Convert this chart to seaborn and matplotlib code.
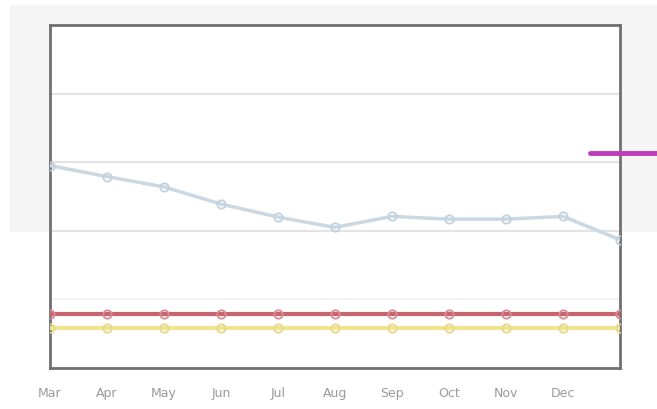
import numpy as np
import pandas as pd
import matplotlib
matplotlib.use("Agg")
import matplotlib.pyplot as plt
from matplotlib.lines import Line2D
from matplotlib.patches import Rectangle
import seaborn as sns

months = ["Mar", "Apr", "May", "Jun", "Jul", "Aug", "Sep", "Oct", "Nov", "Dec", ""]
blue_vals = [2.95, 2.79, 2.64, 2.39, 2.20, 2.05, 2.21, 2.17, 2.17, 2.21, 1.87]
red_vals = [0.78] * 11
yellow_vals = [0.59] * 11
series_names = ["Blue", "Red", "Yellow"]
series_colors = {"Blue": "#cad8e3", "Red": "#c8646e", "Yellow": "#f2e48e"}
marker_edges = {"Blue": "#c2d1dc", "Red": "#d88c92", "Yellow": "#e6d88c"}

rows = []
for name, vals in zip(series_names, [blue_vals, red_vals, yellow_vals]):
    for i, v in enumerate(vals):
        rows.append({"idx": i, "value": v, "series": name})
df = pd.DataFrame(rows)

sns.set_theme(style="white")
plt.rcParams["font.family"] = ["DejaVu Sans"]

fig = plt.figure(figsize=(6.57, 4.09), dpi=100)
fig.patch.set_facecolor("white")
# light grey backdrop band behind upper part
fig.add_artist(Rectangle((10 / 657, (409 - 232) / 409), 1, (232 - 5) / 409,
                         transform=fig.transFigure, facecolor="#f5f5f5",
                         edgecolor="none", zorder=0))

ax = fig.add_axes([50 / 657, (409 - 368) / 409, 570 / 657, 343 / 409])
ax.set_facecolor("white")

for name in ["Yellow", "Red", "Blue"]:
    sub = df[df["series"] == name]
    lw = 2.5 if name == "Blue" else 3
    sns.lineplot(data=sub, x="idx", y="value", ax=ax, color=series_colors[name],
                 linewidth=lw, marker="o", markersize=6,
                 markerfacecolor="none", markeredgecolor=marker_edges[name],
                 markeredgewidth=1.3, legend=False, zorder=3)

ax.set_xlim(0, 10)
ax.set_ylim(0, 5)
ax.set_yticks([2, 3, 4])
ax.set_yticklabels([])
ax.yaxis.grid(True, color="#e3e3e3", linewidth=1.5)
ax.axhline(1, color="#f0f0f0", linewidth=1.2, zorder=1)
ax.set_xticks(range(len(months)))
ax.set_xticklabels(months, color="#9a9a9a", fontsize=9)
ax.tick_params(axis="both", length=0, pad=14)
ax.set_xlabel("")
ax.set_ylabel("")
for s in ax.spines.values():
    s.set_color("#707070")
    s.set_linewidth(2)
    s.set_visible(True)

# cropped legend handle on the right
fig.add_artist(Line2D([590 / 657, 1.0], [(409 - 153) / 409] * 2,
                      transform=fig.transFigure, color="#c03cbc",
                      linewidth=3.5, solid_capstyle="round", zorder=5))

fig.savefig("out.png", dpi=100)
